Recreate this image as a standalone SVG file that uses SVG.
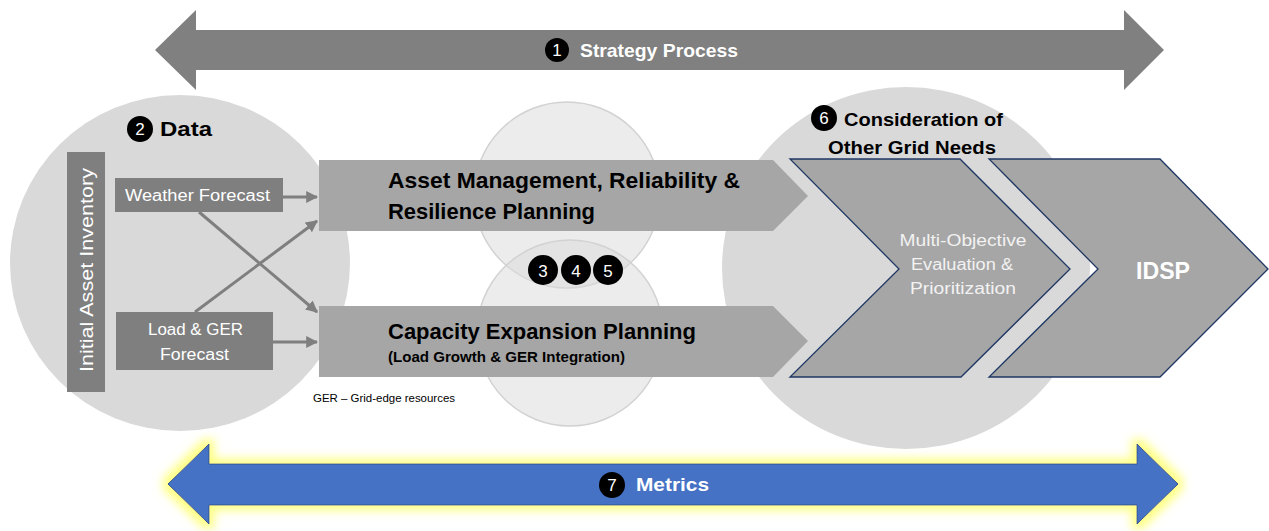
<svg xmlns="http://www.w3.org/2000/svg" width="1269" height="531" viewBox="0 0 1269 531">
<defs>
<style>
.t{font-family:"Liberation Sans",Arial,sans-serif}
.b{font-weight:bold}
.w{fill:#ffffff}
.k{fill:#000000}
.num{font-family:"Liberation Sans",Arial,sans-serif;font-size:17px;fill:#ffffff;text-anchor:middle}
.box{fill:#7f7f7f}
.pent{fill:#a6a6a6}
.chev{fill:#a6a6a6;stroke:#1f3864;stroke-width:1.3}
.conn{stroke:#7f7f7f;stroke-width:3;fill:none}
.mc{fill:#d9d9d9;fill-opacity:0.5;stroke:#d2d2d2;stroke-width:1.5}
</style>
<marker id="ah" viewBox="0 0 10 10" refX="9" refY="5" markerWidth="4" markerHeight="4" orient="auto" markerUnits="strokeWidth">
<path d="M0,0 L10,5 L0,10 z" fill="#7f7f7f"/>
</marker>
<filter id="glow" x="-10%" y="-40%" width="120%" height="180%">
<feMorphology in="SourceAlpha" operator="dilate" radius="5" result="d"/>
<feGaussianBlur in="d" stdDeviation="5" result="bl"/>
<feFlood flood-color="#ffff66" flood-opacity="0.8"/>
<feComposite in2="bl" operator="in" result="g"/>
<feMerge><feMergeNode in="g"/><feMergeNode in="SourceGraphic"/></feMerge>
</filter>
</defs>
<rect width="1269" height="531" fill="#ffffff"/>

<!-- background circles -->
<g id="data-circle"><ellipse cx="180" cy="263" rx="170" ry="168" fill="#d9d9d9"/></g>
<g id="mid-circles">
<circle class="mc" cx="567" cy="195" r="93"/>
<circle class="mc" cx="570" cy="333" r="93"/>
</g>
<g id="grid-needs-circle"><ellipse cx="906" cy="268" rx="184" ry="181" fill="#d9d9d9"/></g>

<!-- Strategy process arrow -->
<g id="strategy">
<polygon points="155,50 196,10 196,30 1124,30 1124,10 1164,50 1124,90 1124,70 196,70 196,90" fill="#808080"/>
<circle cx="557" cy="50" r="12" fill="#000"/>
<text class="num" x="557" y="56">1</text>
<text class="t b w" x="580" y="57" font-size="19" textLength="158" lengthAdjust="spacingAndGlyphs">Strategy Process</text>
</g>

<!-- Data label -->
<g id="data-label">
<circle cx="140" cy="129" r="13" fill="#000"/>
<text class="num" x="140" y="135" font-size="18">2</text>
<text class="t b k" x="160" y="136" font-size="21" textLength="52" lengthAdjust="spacingAndGlyphs">Data</text>
</g>

<g id="initial-asset-inventory">
<rect x="67" y="152" width="38" height="240" class="box"/>
<text class="t w" transform="translate(93,372) rotate(-90)" font-size="18" textLength="204" lengthAdjust="spacingAndGlyphs">Initial Asset Inventory</text>
</g>

<g id="weather-forecast">
<rect x="115" y="178" width="168" height="34" class="box"/>
<text class="t w" x="125" y="201" font-size="16" textLength="145" lengthAdjust="spacingAndGlyphs">Weather Forecast</text>
</g>

<g id="load-ger-forecast">
<rect x="116" y="312" width="157" height="58" class="box"/>
<text class="t w" x="148" y="335" font-size="16" textLength="95" lengthAdjust="spacingAndGlyphs">Load &amp; GER</text>
<text class="t w" x="160" y="360" font-size="16" textLength="69" lengthAdjust="spacingAndGlyphs">Forecast</text>
</g>

<!-- connectors -->
<g id="connectors">
<line class="conn" x1="283" y1="197" x2="317" y2="197" marker-end="url(#ah)"/>
<line class="conn" x1="199" y1="212" x2="317" y2="312" marker-end="url(#ah)"/>
<line class="conn" x1="195" y1="312" x2="317" y2="221" marker-end="url(#ah)"/>
<line class="conn" x1="273" y1="342" x2="317" y2="342" marker-end="url(#ah)"/>
</g>

<g id="asset-management">
<polygon class="pent" points="319,160 773,160 808,196 773,231 319,231"/>
<text class="t b k" x="388" y="188" font-size="22" textLength="352" lengthAdjust="spacingAndGlyphs">Asset Management, Reliability &amp;</text>
<text class="t b k" x="388" y="219" font-size="22" textLength="207" lengthAdjust="spacingAndGlyphs">Resilience Planning</text>
</g>

<g id="capacity-expansion">
<polygon class="pent" points="319,306 773,306 808,341 773,377 319,377"/>
<text class="t b k" x="388" y="339" font-size="22" textLength="308" lengthAdjust="spacingAndGlyphs">Capacity Expansion Planning</text>
<text class="t b k" x="388" y="362" font-size="14" textLength="237" lengthAdjust="spacingAndGlyphs">(Load Growth &amp; GER Integration)</text>
</g>

<g id="steps-345">
<circle cx="543" cy="270" r="15" fill="#000"/>
<text class="num" x="543" y="277" font-size="20">3</text>
<circle cx="576" cy="270" r="15" fill="#000"/>
<text class="num" x="576" y="277" font-size="20">4</text>
<circle cx="608" cy="270" r="15" fill="#000"/>
<text class="num" x="608" y="277" font-size="20">5</text>
</g>

<g id="ger-note">
<text class="t k" x="313" y="402" font-size="11" textLength="142" lengthAdjust="spacingAndGlyphs">GER – Grid-edge resources</text>
</g>

<g id="grid-needs-label">
<circle cx="824" cy="118" r="13" fill="#000"/>
<text class="num" x="824" y="124" font-size="18">6</text>
<text class="t b k" x="844" y="126" font-size="19" textLength="159" lengthAdjust="spacingAndGlyphs">Consideration of</text>
<text class="t b k" x="828" y="154" font-size="19" textLength="168" lengthAdjust="spacingAndGlyphs">Other Grid Needs</text>
</g>

<g id="multi-objective">
<polygon class="chev" points="790,159 960,159 1070,269 961,377 790,377 899,269"/>
<text class="t" x="963" y="246" font-size="16" fill="#f2f2f2" text-anchor="middle" textLength="127" lengthAdjust="spacingAndGlyphs">Multi-Objective</text>
<text class="t" x="962" y="270" font-size="16" fill="#f2f2f2" text-anchor="middle" textLength="102" lengthAdjust="spacingAndGlyphs">Evaluation &amp;</text>
<text class="t" x="963" y="294" font-size="16" fill="#f2f2f2" text-anchor="middle" textLength="106" lengthAdjust="spacingAndGlyphs">Prioritization</text>
</g>

<g id="idsp">
<polygon class="chev" points="989,159 1160,159 1268,269 1160,377 989,377 1098,269"/>
<text class="t b w" x="1163" y="279" font-size="24" text-anchor="middle" textLength="54" lengthAdjust="spacingAndGlyphs">IDSP</text>
</g>

<g id="metrics">
<polygon points="168,484 209,444 209,464 1137,464 1137,444 1178,484 1137,524 1137,505 209,505 209,524" fill="#4472c4" stroke="#2f528f" stroke-width="1" filter="url(#glow)"/>
<circle cx="612" cy="485" r="13" fill="#000"/>
<text class="num" x="612" y="491" font-size="18">7</text>
<text class="t b w" x="636" y="491" font-size="19" textLength="73" lengthAdjust="spacingAndGlyphs">Metrics</text>
</g>
</svg>
